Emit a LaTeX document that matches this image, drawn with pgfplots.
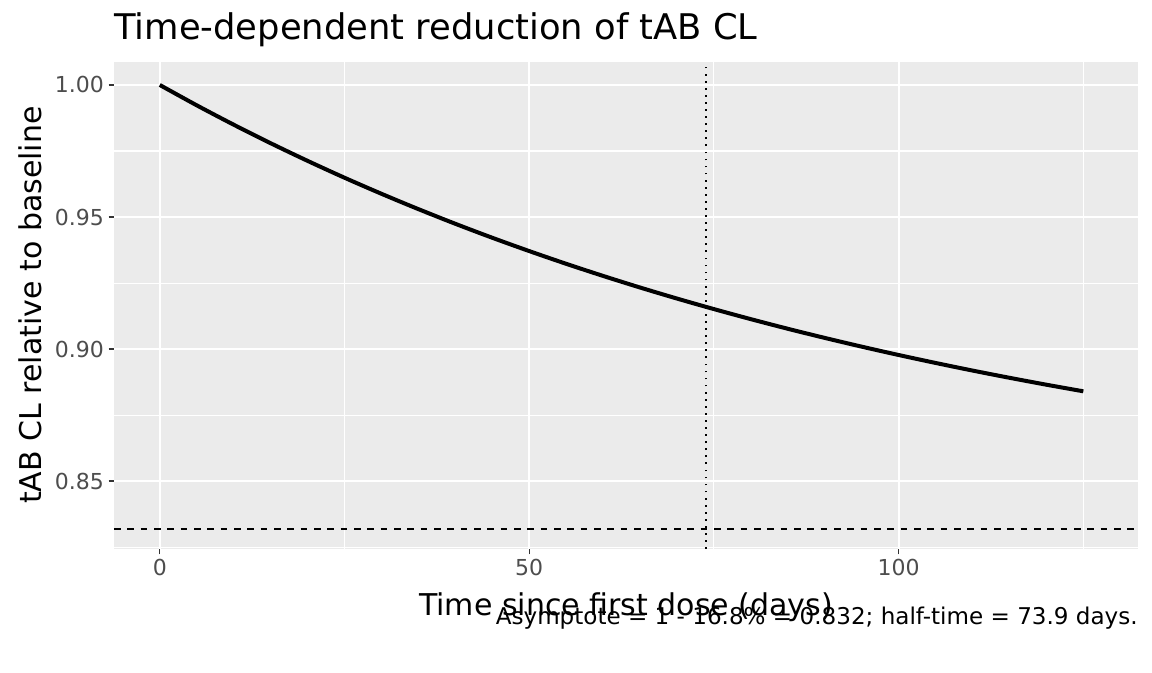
\documentclass[border=0pt]{standalone}
\usepackage{pgfplots}
\pgfplotsset{compat=1.18}
\usepackage{fontspec}
\setmainfont{DejaVu Sans}
\definecolor{panel}{RGB}{235,235,235}
\definecolor{g30}{RGB}{77,77,77}
\definecolor{g20}{RGB}{51,51,51}
\begin{document}
\begin{tikzpicture}
\begin{axis}[
  scale only axis, width=768pt, height=365.25pt,
  xmin=-6.2, xmax=132.4, ymin=0.8243, ymax=1.0087,
  axis background/.style={fill=panel}, axis line style={draw=none},
  xtick={0,50,100}, ytick={0.85,0.90,0.95,1.00},
  minor xtick={25,75,125}, minor ytick={0.825,0.875,0.925,0.975},
  yticklabel style={/pgf/number format/.cd,fixed,fixed zerofill,precision=2,assume math mode=true},
  xticklabel style={/pgf/number format/assume math mode=true},
  ticklabel style={font=\fontsize{16.5}{19}\selectfont, text=g30},
  tick style={draw=g20, line width=1pt}, major tick length=4pt, minor tick length=0pt,
  tick align=outside, xtick pos=bottom, ytick pos=left,
  grid=both, major grid style={white, line width=1.6pt}, minor grid style={white, line width=0.8pt},
  clip=false,
]
\addplot[black, line width=3pt, smooth] coordinates {
(0,1.0000)(5,0.99230)(10,0.98496)(15,0.97795)(20,0.97127)(25,0.96488)(30,0.95880)(35,0.95299)(40,0.94744)(45,0.94215)(50,0.93711)(55,0.93229)(60,0.92770)(65,0.92331)(70,0.91913)(75,0.91514)(80,0.91133)(85,0.90769)(90,0.90423)(95,0.90092)(100,0.89776)(105,0.89475)(110,0.89187)(115,0.88913)(120,0.88651)(125,0.88401)};
\addplot[black, line width=1.3pt, dash pattern=on 5pt off 5pt] coordinates {(-6.2,0.832)(132.4,0.832)};
\addplot[black, line width=1.3pt, dash pattern=on 1.3pt off 4pt] coordinates {(73.9,0.8243)(73.9,1.0087)};
\end{axis}
\path[use as bounding box] (-85.5pt,-92.25pt) rectangle (778.5pt,411.75pt);
\node[anchor=base west, inner sep=0pt, font=\fontsize{26.5}{30}\selectfont] at (0pt,381.75pt) {Time-dependent reduction of tAB CL};
\node[anchor=base, inner sep=0pt, font=\fontsize{22.5}{26}\selectfont] at (384pt,-49.5pt) {Time since first dose (days)};
\node[anchor=base east, inner sep=0pt, font=\fontsize{17.3}{20}\selectfont] at (768pt,-56.5pt) {Asymptote = 1 - 16.8\% = 0.832; half-time = 73.9 days.};
\node[rotate=90, anchor=center, inner sep=0pt, font=\fontsize{22.5}{26}\selectfont] at (-63pt,183pt) {tAB CL relative to baseline};
\end{tikzpicture}
\end{document}
